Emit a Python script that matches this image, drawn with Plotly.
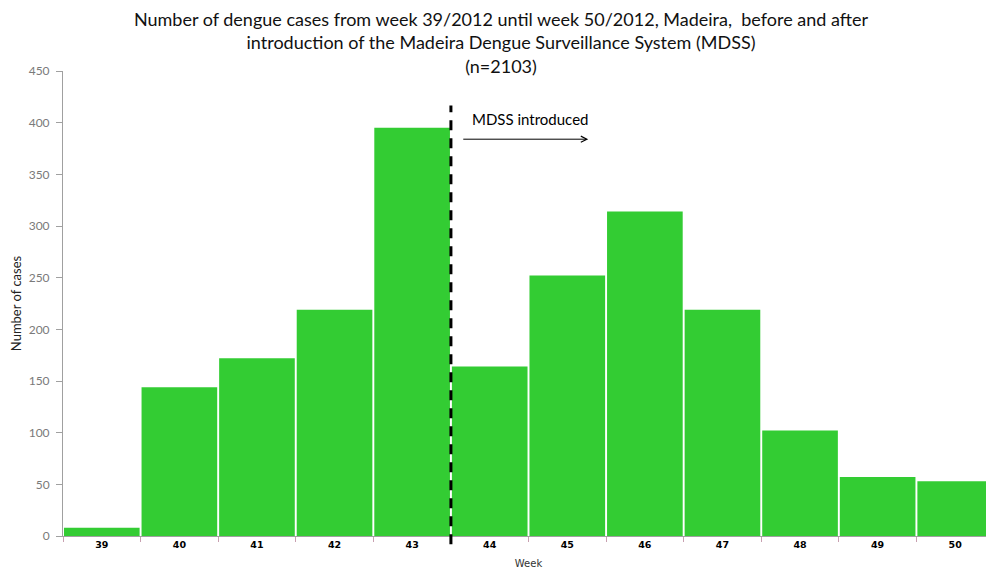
import plotly.graph_objects as go

weeks = ["39", "40", "41", "42", "43", "44", "45", "46", "47", "48", "49", "50"]
cases = [8, 144, 172, 219, 395, 164, 252, 314, 219, 102, 57, 53]
y_ticks = [0, 50, 100, 150, 200, 250, 300, 350, 400, 450]

title_text = ("Number of dengue cases from week 39/2012 until week 50/2012, Madeira,  before and after<br>"
              "introduction of the Madeira Dengue Surveillance System (MDSS)<br>(n=2103)")

fig = go.Figure()
fig.add_trace(go.Bar(x=weeks, y=cases, marker=dict(color="#33CC33", line=dict(width=0))))

fig.update_layout(
    width=986, height=565,
    paper_bgcolor="white", plot_bgcolor="white",
    margin=dict(l=55, r=0, t=63, b=37, autoexpand=False),
    bargap=0.025,
    showlegend=False,
    title=dict(text=title_text, x=0.5, xanchor="center", y=0.968, yanchor="top",
               font=dict(family="Lato, Open Sans, sans-serif", size=18, color="#111111")),
    xaxis=dict(type="category", showgrid=False, showline=True, linecolor="#A0A0A0",
               ticks="outside", tickson="boundaries", ticklen=5, tickcolor="#C8A0B0",
               tickfont=dict(family="DejaVu Sans", size=9.5, color="black", weight="bold"),
               title=dict(text="Week", font=dict(family="DejaVu Sans", size=10, color="#333333"), standoff=10)),
    yaxis=dict(range=[0, 450], tickvals=y_ticks, showgrid=False, showline=True, linecolor="#A0A0A0",
               ticks="outside", ticklen=6, tickcolor="#A0A0A0", ticklabelstandoff=4,
               tickfont=dict(family="Lato, Open Sans, sans-serif", size=12, color="#7A7A7A"),
               title=dict(text="Number of cases", font=dict(family="Lato, Open Sans, sans-serif", size=13, color="#222222"), standoff=10)),
)

fig.add_shape(type="line", xref="x", yref="paper", x0=4.5, x1=4.5, y0=-0.018, y1=0.926,
              line=dict(color="black", width=3, dash="10px,8px"))

fig.add_annotation(x=6.27, y=384, ax=4.64, ay=384, xref="x", yref="y", axref="x", ayref="y",
                   text="", showarrow=True, arrowhead=5, arrowsize=1.2, arrowwidth=1, arrowcolor="black")
fig.add_annotation(x=5.52, y=404, xref="x", yref="y", text="MDSS introduced", showarrow=False,
                   font=dict(family="Lato, Open Sans, sans-serif", size=15, color="black"))

fig.write_html("out.html")
